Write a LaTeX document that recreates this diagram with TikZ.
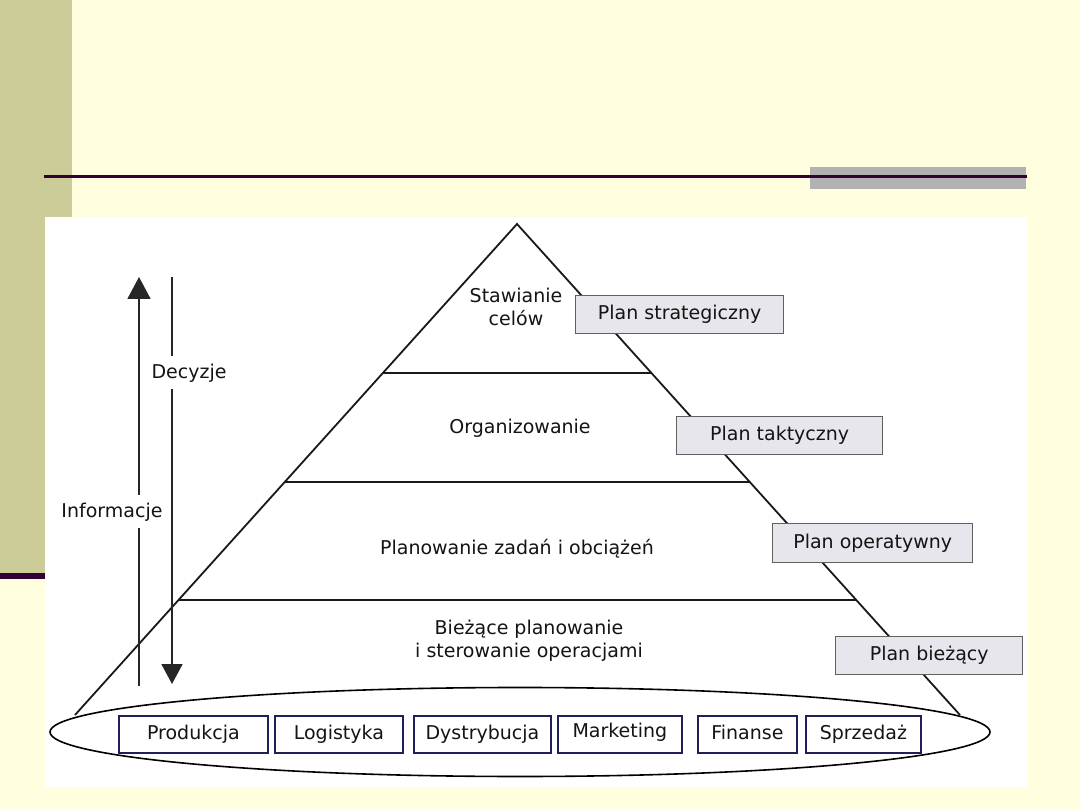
\documentclass[tikz,border=0pt]{standalone}
\usepackage{fontspec}
\setmainfont{DejaVu Sans}
\usetikzlibrary{calc,shapes.geometric,arrows.meta}
\definecolor{bgyellow}{HTML}{FFFFE0}
\definecolor{olive}{HTML}{CCCC99}
\definecolor{plum}{HTML}{330033}
\definecolor{greybar}{HTML}{B2B2B2}
\definecolor{navy}{HTML}{1F1F5C}
\definecolor{planfill}{HTML}{E6E6EC}
\definecolor{txt}{HTML}{141414}
\tikzset{
  lbl/.style={text=txt, font=\fontsize{19}{23.5}\selectfont, align=center, inner sep=0pt},
  planbox/.style={draw=gray!75!black, fill=planfill, line width=1.4pt, text=txt,
    font=\fontsize{19}{22}\selectfont, inner sep=0pt, text height=14pt, text depth=4pt, anchor=north west},
  deptbox/.style={draw=navy, line width=1.8pt, fill=white, text=txt,
    font=\fontsize{19}{22}\selectfont, inner sep=0pt, text height=14pt, text depth=4pt, anchor=north west},
  pyr/.style={line width=1.8pt, draw=black!90},
  flow/.style={line width=1.8pt, draw=black!85},
}
\begin{document}
\begin{tikzpicture}[x=1pt,y=-1pt]
\useasboundingbox (0,0) rectangle (1080,810);
% background
\fill[bgyellow] (0,0) rectangle (1080,810);
\fill[olive] (0,0) rectangle (72,575);
\fill[plum] (0,573) rectangle (45,579);
\fill[greybar] (810,167) rectangle (1026,189);
\fill[plum] (44,175) rectangle (1027,178);
\fill[white] (45,217) rectangle (1027,787);

% pyramid
\coordinate (apex) at (517,224);
\coordinate (bl) at (75,715);
\coordinate (br) at (960,715);
\draw[pyr] (bl) -- (apex) -- (br);
\draw[pyr] ($(apex)!0.3035!(bl)$) -- ($(apex)!0.3035!(br)$);
\draw[pyr] ($(apex)!0.5255!(bl)$) -- ($(apex)!0.5255!(br)$);
\draw[pyr] ($(apex)!0.7658!(bl)$) -- ($(apex)!0.7658!(br)$);

% base ellipse
\node[ellipse, draw, line width=1.6pt, minimum width=940, minimum height=89, inner sep=0pt] (base) at (520,732) {};

% level labels
\node[lbl] (l1) at (516,307) {Stawianie\\celów};
\node[lbl] (l2) at (520,428) {Organizowanie};
\node[lbl] (l3) at (517,549) {Planowanie zadań i obciążeń};
\node[lbl] (l4) at (529,641) {Bieżące planowanie\\i sterowanie operacjami};

% plan boxes
\node[planbox, minimum width=208, minimum height=38] (p1) at (575,295) {Plan strategiczny};
\node[planbox, minimum width=206, minimum height=38] (p2) at (676,416) {Plan taktyczny};
\node[planbox, minimum width=200, minimum height=39] (p3) at (772,523) {Plan operatywny};
\node[planbox, minimum width=187, minimum height=38] (p4) at (835,636) {Plan bieżący};

% department boxes
\node[deptbox, minimum width=149, minimum height=37] (d1) at (118,715) {Produkcja};
\node[deptbox, minimum width=128, minimum height=37] (d2) at (274,715) {Logistyka};
\node[deptbox, minimum width=137, minimum height=37] (d3) at (413,715) {Dystrybucja};
\node[deptbox, minimum width=124, minimum height=37] (d4) at (557,715) {\raisebox{2pt}{Marketing}};
\node[deptbox, minimum width=99, minimum height=37] (d5) at (697,715) {Finanse};
\node[deptbox, minimum width=115, minimum height=37] (d6) at (805,715) {Sprzedaż};

% flow arrows
\node[lbl] (inf) at (112,512) {Informacje};
\node[lbl] (dec) at (189,373) {Decyzje};
\coordinate (upbot) at (139,686);
\coordinate (uptop) at (139,277);
\coordinate (dntop) at (172,277);
\coordinate (dnbot) at (172,684);
\draw[flow] (upbot) -- (139,528);
\draw[flow, -{Triangle[width=23pt,length=22pt]}] (139,495) -- (uptop);
\draw[flow] (dntop) -- (172,356);
\draw[flow, -{Triangle[width=21pt,length=20pt]}] (172,389) -- (dnbot);
\end{tikzpicture}
\end{document}
